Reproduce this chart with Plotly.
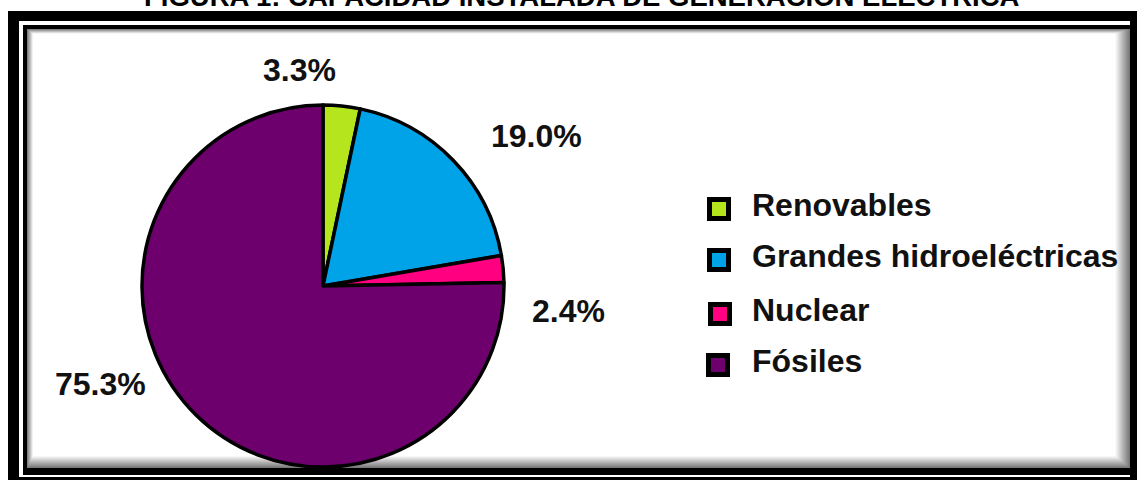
import plotly.graph_objects as go

# datos
categorias = ['Renovables', 'Grandes hidroeléctricas', 'Nuclear', 'Fósiles']
valores = [3.3, 19.0, 2.4, 75.3]
colores = ['#B5E61D', '#00A2E8', '#FF0080', '#6E006E']
titulo = 'FIGURA 1: CAPACIDAD INSTALADA DE GENERACIÓN ELÉCTRICA'

W, H = 1139, 480
FONT = 'Liberation Sans, Arial, sans-serif'

# posiciones de etiquetas y leyenda (pixeles)
pos_etiquetas = [(299, 70), (536, 136), (568, 311), (100, 384)]
pos_leyenda = [(719, 209), (719, 260), (720, 314), (718, 365)]

# centro y radio del pastel (pixeles)
cx, cy, r = 323, 286, 181


def px(x):
    return x / W


def py(y):
    return 1 - y / H


fig = go.Figure()
fig.add_trace(go.Pie(
    labels=categorias,
    values=valores,
    sort=False,
    direction='clockwise',
    rotation=0,
    marker=dict(colors=colores, line=dict(color='black', width=3.5)),
    textinfo='none',
    hoverinfo='label+percent',
    showlegend=False,
    domain=dict(x=[px(cx - r), px(cx + r)], y=[py(cy + r), py(cy - r)]),
))


def rect(x0, y0, x1, y1, fill, line=None, layer='below'):
    return dict(type='rect', xref='paper', yref='paper', x0=px(x0), y0=py(y0), x1=px(x1), y1=py(y1),
                fillcolor=fill, line=line or dict(width=0), layer=layer)


shapes = [
    rect(8, 11, 1137, 481, 'black'),
    rect(19, 21, 1130, 477, 'white'),
    rect(23, 25, 1130, 475, 'black'),
]
# sombra interior
n = 14
for i in range(n):
    g = int(110 + (254 - 110) * (i + 1) / n)
    shapes.append(rect(27 + i * 0.45, 29 + i * 0.35, 1130 - i * 1.1, 468 - i * 0.9, f'rgb({g},{g},{g})'))
shapes.append(rect(34, 34, 1114, 455, 'white'))

# leyenda
annotations = []
for cat, col, (lx, ly) in zip(categorias, colores, pos_leyenda):
    shapes.append(rect(lx - 9.5, ly - 9.5, lx + 9.5, ly + 9.5, col, dict(color='black', width=5), 'above'))
    annotations.append(dict(xref='paper', yref='paper', x=px(750), y=py(ly - 4), text=f'<b>{cat}</b>',
                            showarrow=False, xanchor='left', yanchor='middle',
                            font=dict(family=FONT, size=32, color='#111111')))

for v, (tx, ty) in zip(valores, pos_etiquetas):
    annotations.append(dict(xref='paper', yref='paper', x=px(tx), y=py(ty), text=f'<b>{v:.1f}%</b>',
                            showarrow=False, xanchor='center', yanchor='middle',
                            font=dict(family=FONT, size=32, color='#111111')))

annotations.append(dict(xref='paper', yref='paper', x=px(582), y=py(14), text=f'<b>{titulo}</b>',
                        showarrow=False, xanchor='center', yanchor='bottom',
                        font=dict(family=FONT, size=27.5, color='black')))

fig.update_layout(
    width=W, height=H,
    margin=dict(l=0, r=0, t=0, b=0),
    paper_bgcolor='white',
    shapes=shapes,
    annotations=annotations,
    showlegend=False,
)

fig.write_html('out.html', config={'displayModeBar': False},
               post_script="document.body.style.margin='0';")
